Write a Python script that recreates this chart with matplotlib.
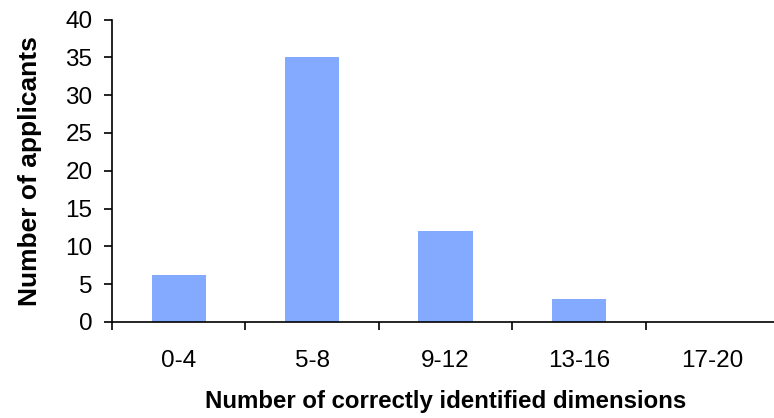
import numpy as np
import matplotlib
matplotlib.use("Agg")
import matplotlib.pyplot as plt

plt.rcParams['font.family'] = ['Liberation Sans', 'DejaVu Sans']

groups = ["0-4", "5-8", "9-12", "13-16", "17-20"]
applicants = [6.2, 35, 12, 3, 0]

fig = plt.figure(figsize=(7.74, 4.18), dpi=100)
ax = fig.add_axes([112/774, 1 - 322/418, 667/774, 302.5/418])

x = np.arange(len(groups)) + 0.5
ax.bar(x, applicants, width=0.405, color="#84aaff")

ax.set_xlim(0, len(groups))
ax.set_ylim(0, 40)
ax.set_yticks(np.arange(0, 41, 5))

# labels at the centres, tick marks at the category borders
ax.set_xticks(x)
ax.set_xticklabels(groups)
ax.set_xticks(np.arange(0, len(groups) + 1), minor=True)
ax.tick_params(axis="x", which="major", length=0, pad=20, labelsize=17.5)
ax.tick_params(axis="x", which="minor", length=6, width=1.2, direction="out")
ax.tick_params(axis="y", length=6, width=1.2, direction="out", pad=8, labelsize=17.5)

for s in ["top", "right"]:
    ax.spines[s].set_visible(False)
for s in ["left", "bottom"]:
    ax.spines[s].set_linewidth(1.2)

ax.set_xlabel("Number of correctly identified dimensions", fontsize=17.3, fontweight="bold", labelpad=13)
ax.set_ylabel("Number of applicants", fontsize=19, fontweight="bold", labelpad=17)

fig.savefig("out.png", dpi=100)
